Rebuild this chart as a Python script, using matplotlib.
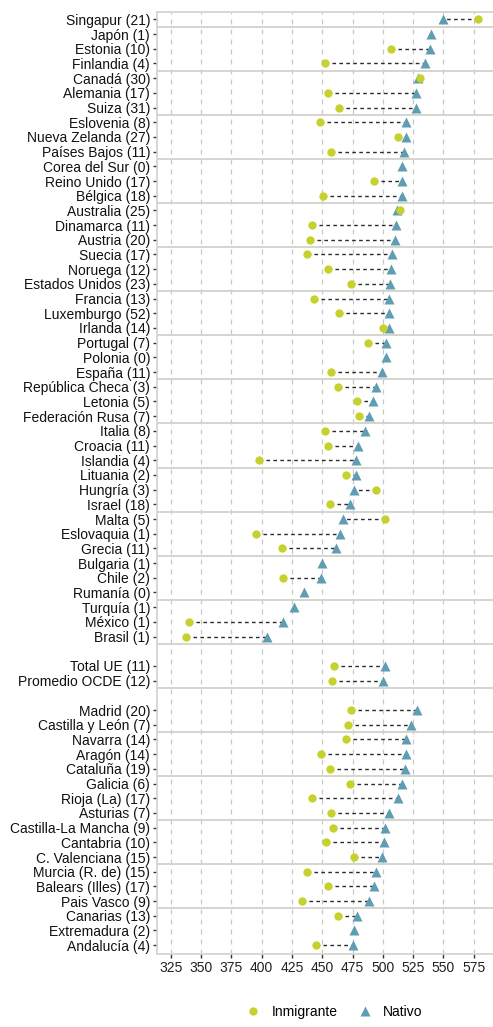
import numpy as np
import matplotlib
matplotlib.use("Agg")
from matplotlib import pyplot as plt
from matplotlib.lines import Line2D

plt.rcParams['font.family'] = ['Liberation Sans', 'DejaVu Sans']

# rows from top to bottom; None marks an empty row
labels = [
    "Singapur (21)", "Japón (1)", "Estonia (10)", "Finlandia (4)", "Canadá (30)",
    "Alemania (17)", "Suiza (31)", "Eslovenia (8)", "Nueva Zelanda (27)",
    "Países Bajos (11)", "Corea del Sur (0)", "Reino Unido (17)", "Bélgica (18)",
    "Australia (25)", "Dinamarca (11)", "Austria (20)", "Suecia (17)",
    "Noruega (12)", "Estados Unidos (23)", "Francia (13)", "Luxemburgo (52)",
    "Irlanda (14)", "Portugal (7)", "Polonia (0)", "España (11)",
    "República Checa (3)", "Letonia (5)", "Federación Rusa (7)", "Italia (8)",
    "Croacia (11)", "Islandia (4)", "Lituania (2)", "Hungría (3)", "Israel (18)",
    "Malta (5)", "Eslovaquia (1)", "Grecia (11)", "Bulgaria (1)", "Chile (2)",
    "Rumanía (0)", "Turquía (1)", "México (1)", "Brasil (1)",
    None, "Total UE (11)", "Promedio OCDE (12)",
    None, "Madrid (20)", "Castilla y León (7)", "Navarra (14)", "Aragón (14)",
    "Cataluña (19)", "Galicia (6)", "Rioja (La) (17)", "Asturias (7)",
    "Castilla-La Mancha (9)", "Cantabria (10)", "C. Valenciana (15)",
    "Murcia (R. de) (15)", "Balears (Illes) (17)", "Pais Vasco (9)",
    "Canarias (13)", "Extremadura (2)", "Andalucía (4)",
]

nativo = [
    550, 539.5, 539, 534.5, 529, 527, 527, 519.5, 519, 517.5, 516, 516, 516,
    512, 510.5, 510, 507.5, 507, 506, 505.5, 505.5, 505, 503, 502.5, 499,
    494.5, 492, 489, 485, 479.5, 478, 477.5, 476.5, 472.5,
    467.5, 465, 461.5, 450, 449, 435, 426.5, 417.5, 404,
    None, 502, 500,
    None, 528, 523, 519.5, 519, 518, 516, 512.5, 505.5,
    501.5, 501, 499.5, 494.5, 493, 489, 479, 476, 475,
]

inmigrante = [
    579, None, 507, 452.5, 531, 455, 464, 448, 512.5, 457, None, 493, 450.5,
    514, 441.5, 440, 437.5, 455, 473.5, 443.5, 464, 500, 487.5, None, 457,
    463, 478.5, 480, 452, 454.5, 398, 469.5, 494, 456.5,
    501.5, 395, 417, None, 417.5, None, None, 340, 337.5,
    None, 460, 458,
    None, 473.5, 471.5, 469.5, 449, 456.5, 473, 441.5, 457,
    458.5, 453, 476, 437, 455, 433, 463, None, 444.5,
]

col_inm = "#c6d12e"
col_nat = "#5f9db3"
col_sep = "#d2d2ca"

n = len(labels)
ypos = np.arange(n, 0, -1)

fig = plt.figure(figsize=(4.93, 10.27), dpi=100)
ax = fig.add_axes([157 / 493, 73 / 1027, 336 / 493, 942 / 1027])

for y, a, b in zip(ypos, inmigrante, nativo):
    if a is None or b is None:
        continue
    ax.plot([a, b], [y, y], color="#2a2a2a", lw=1.0, ls=(0, (2.6, 2.4)), zorder=2)

yn = [y for y, v in zip(ypos, nativo) if v is not None]
vn = [v for v in nativo if v is not None]
yi = [y for y, v in zip(ypos, inmigrante) if v is not None]
vi = [v for v in inmigrante if v is not None]
ax.plot(vn, yn, ls="none", marker="^", ms=7, color=col_nat, mec="none", zorder=3)
ax.plot(vi, yi, ls="none", marker="o", ms=6, color=col_inm, mec="none", zorder=4)

# group separators every 3 rows from the bottom
for k in range(1, n // 3 + 1):
    ax.axhline(3 * k + 0.5, color=col_sep, lw=1.3, zorder=1)

xt = np.arange(325, 576, 25)
for x in xt:
    ax.axvline(x, color="#c8c8c8", lw=0.9, ls=(0, (4, 4)), zorder=0)

ax.set_xlim(313.5, 591)
ax.set_ylim(0.4, n + 0.5)
ax.set_xticks(xt)
ax.set_xticklabels([str(x) for x in xt], fontsize=10, color="#222222")
ytick_pos = [y for y, l in zip(ypos, labels) if l is not None]
ytick_lab = [l for l in labels if l is not None]
ax.set_yticks(ytick_pos)
ax.set_yticklabels(ytick_lab, fontsize=10, color="#111111")
ax.tick_params(axis="both", length=3, width=1, color="#333333", pad=2)
for s in ax.spines.values():
    s.set_color(col_sep)
    s.set_linewidth(1.2)
ax.spines["right"].set_visible(False)

handles = [
    Line2D([], [], ls="none", marker="o", ms=6, color=col_inm, mec="none", label="Inmigrante"),
    Line2D([], [], ls="none", marker="^", ms=7, color=col_nat, mec="none", label="Nativo"),
]
fig.legend(handles=handles, loc="center", bbox_to_anchor=(331 / 493, 1 - 1012 / 1027),
           ncol=2, frameon=False, fontsize=10, handletextpad=0.3, columnspacing=1.0)

fig.savefig("out.png", dpi=100)
